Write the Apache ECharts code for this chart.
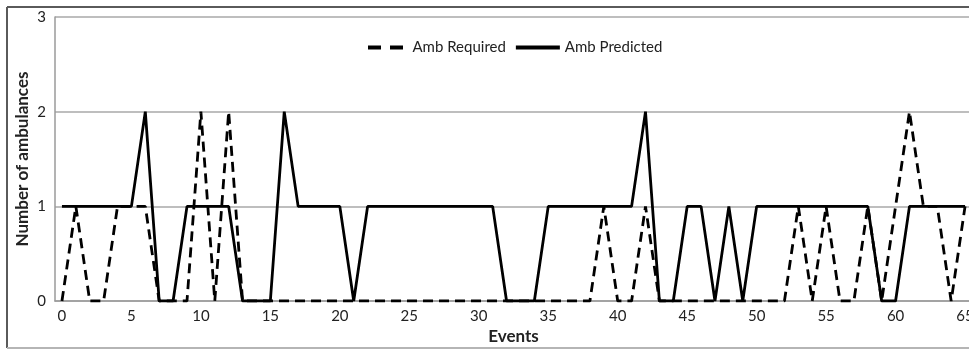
<!DOCTYPE html>
<html>
<head>
<meta charset="utf-8">
<script src="https://cdn.jsdelivr.net/npm/echarts@6/dist/echarts.min.js"></script>
<style>
html,body{margin:0;padding:0;background:#fff;}
#chart{width:969px;height:350px;}
</style>
</head>
<body>
<div id="chart"></div>
<script>
var events = ['0','1','2','3','4','5','6','7','8','9',
  '10','11','12','13','14','15','16','17','18','19',
  '20','21','22','23','24','25','26','27','28','29',
  '30','31','32','33','34','35','36','37','38','39',
  '40','41','42','43','44','45','46','47','48','49',
  '50','51','52','53','54','55','56','57','58','59',
  '60','61','62','63','64','65'];
var ambRequired = [0,1,0,0,1,1,1,0,0,0,
  2,0,2,0,0,0,0,0,0,0,
  0,0,0,0,0,0,0,0,0,0,
  0,0,0,0,0,0,0,0,0,1,
  0,0,1,0,0,0,0,0,0,0,
  0,0,0,1,0,1,0,0,1,0,
  1,2,1,1,0,1];
var ambPredicted = [1,1,1,1,1,1,2,0,0,1,
  1,1,1,0,0,0,2,1,1,1,
  1,0,1,1,1,1,1,1,1,1,
  1,1,0,0,0,1,1,1,1,1,
  1,1,2,0,0,1,1,0,1,0,
  1,1,1,1,1,1,1,1,1,0,
  0,1,1,1,1,1];
var yTicks = [0,1,2,3];

var FONT = 'Lato';
var chart = echarts.init(document.getElementById('chart'), null, {renderer:'canvas'});
chart.setOption({
  animation:false,
  backgroundColor:'#fff',
  textStyle:{fontFamily:FONT},
  graphic:[
    {type:'line', shape:{x1:7,y1:7,x2:975,y2:7}, style:{stroke:'#5a5a5a', lineWidth:2}},
    {type:'line', shape:{x1:7,y1:7,x2:7,y2:348}, style:{stroke:'#5a5a5a', lineWidth:2}},
    {type:'line', shape:{x1:7,y1:348,x2:975,y2:348}, style:{stroke:'#b5b5b5', lineWidth:2}}
  ],
  legend:{
    top:35, left:363,
    itemWidth:44, itemHeight:4, itemGap:10,
    textStyle:{fontFamily:FONT, fontSize:15, color:'#222'},
    data:[
      {name:'Amb Required', icon:'path://M0,0H13V4H0Z M22,0H35V4H22Z', itemStyle:{color:'#000'}},
      {name:'Amb Predicted', icon:'path://M0,0H44V4H0Z', itemStyle:{color:'#000'}}
    ]
  },
  grid:{left:55, top:17, width:917, height:284, containLabel:false, outerBoundsMode:'none'},
  xAxis:{
    type:'category', data:events, boundaryGap:true,
    name:'Events', nameLocation:'middle', nameGap:27, nameMoveOverlap:false,
    nameTextStyle:{fontFamily:FONT, fontSize:17, fontWeight:'bold', color:'#222'},
    axisLine:{show:true, lineStyle:{color:'#9a9a9a', width:1.5}},
    axisTick:{show:false},
    axisLabel:{interval:4, fontSize:15, color:'#222', margin:8, fontFamily:FONT},
    splitLine:{show:false}
  },
  yAxis:{
    type:'value', min:0, max:3, interval:1,
    name:'Number of ambulances', nameLocation:'middle', nameGap:24, nameRotate:90, nameMoveOverlap:false,
    nameTextStyle:{fontFamily:FONT, fontSize:17, fontWeight:'bold', color:'#222'},
    axisLine:{show:true, lineStyle:{color:'#9a9a9a', width:1.5}},
    axisTick:{show:false},
    axisLabel:{fontSize:15, color:'#222', margin:9, fontFamily:FONT,
      formatter:function(v){return yTicks.indexOf(v)>=0 ? String(v) : '';}},
    splitLine:{show:true, lineStyle:{color:'#a8a8a8', width:1.5}}
  },
  series:[
    {name:'Amb Required', type:'line', data:ambRequired, symbol:'none', z:2,
     lineStyle:{color:'#000', width:2.8, type:[10,6]}, itemStyle:{color:'#000'}},
    {name:'Amb Predicted', type:'line', data:ambPredicted, symbol:'none', z:3,
     lineStyle:{color:'#000', width:2.8, type:'solid'}, itemStyle:{color:'#000'}}
  ]
});
</script>
</body>
</html>
